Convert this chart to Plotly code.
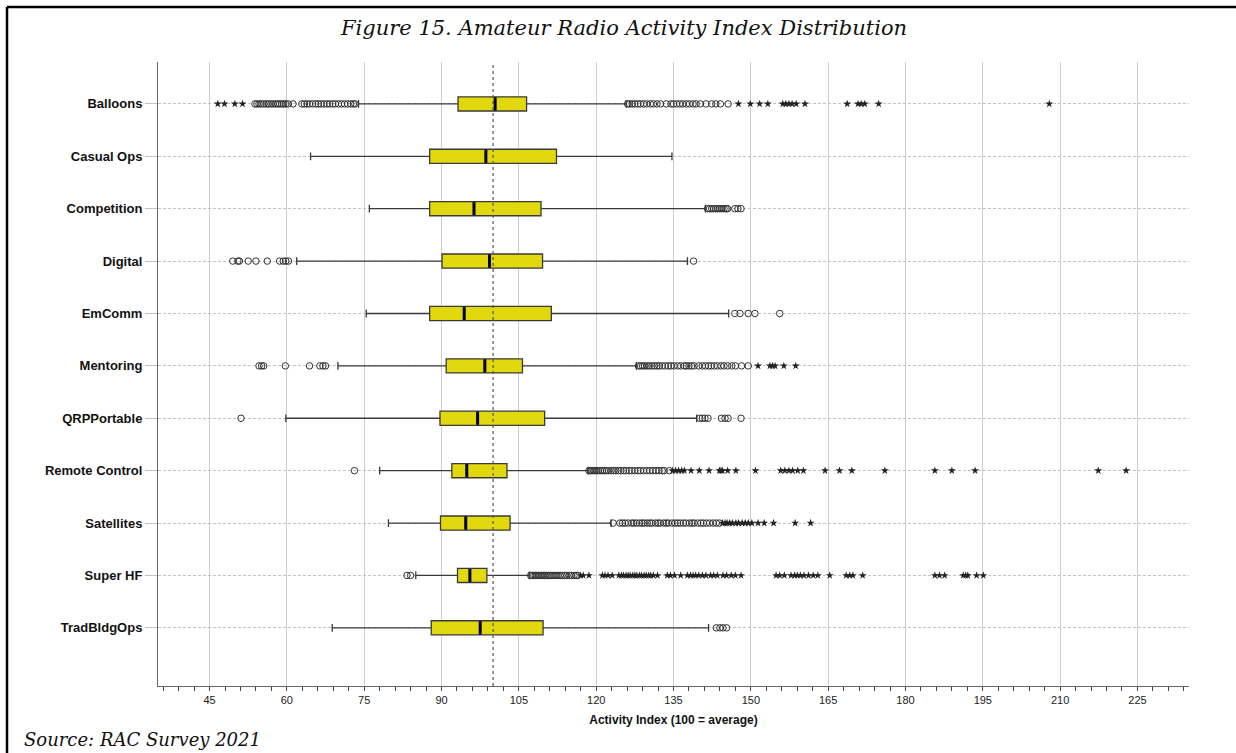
import plotly.graph_objects as go

# ---------------- data ----------------
categories = ["Balloons", "Casual Ops", "Competition", "Digital", "EmComm", "Mentoring",
              "QRPPortable", "Remote Control", "Satellites", "Super HF", "TradBldgOps"]

lower_whisker = [73.9, 64.6, 76.0, 61.9, 75.4, 69.9, 59.8, 78.0, 79.7, 85.0, 68.8]
q1_values     = [93.2, 87.7, 87.7, 90.1, 87.7, 90.9, 89.7, 92.0, 89.8, 93.1, 88.0]
median_values = [100.4, 98.6, 96.3, 99.3, 94.4, 98.4, 97.0, 94.9, 94.7, 95.5, 97.5]
q3_values     = [106.5, 112.3, 109.3, 109.6, 111.3, 105.7, 110.0, 102.7, 103.3, 98.8, 109.7]
upper_whisker = [125.8, 134.7, 141.2, 137.7, 145.7, 127.8, 139.5, 118.4, 122.9, 107.0, 141.8]

# mild outliers (circles)
balloons_circles = [53.8, 54.2, 54.6, 55.0, 55.5, 56.0, 56.4, 56.9, 57.3, 57.8, 58.2, 58.6, 59.0,
                    59.4, 59.8, 60.3, 61.2, 62.9, 63.4, 63.9, 64.4, 65.0, 65.6, 66.1, 66.6, 67.2,
                    67.8, 68.3, 68.9, 69.4, 70.0, 70.6, 71.2, 71.8, 72.4, 72.9, 73.2,
                    126.1, 126.5, 127.0, 127.5, 128.1, 128.6, 129.2, 129.8, 130.5, 131.1, 131.8,
                    132.5, 133.6, 134.5, 135.0, 135.6, 136.2, 136.8, 137.5, 138.1, 138.8, 139.4,
                    140.2, 141.3, 142.4, 143.2, 144.1, 145.6]
casual_circles = []
competition_circles = [141.6, 142.0, 142.4, 142.8, 143.2, 143.6, 144.0, 144.4, 144.8, 145.2,
                       145.5, 146.9, 147.5, 148.1]
digital_circles = [49.5, 50.5, 50.8, 52.5, 54.0, 56.2, 58.6, 59.3, 59.8, 60.3, 138.9]
emcomm_circles = [146.9, 147.9, 149.5, 150.8, 155.6]
mentoring_circles = [54.6, 55.1, 55.5, 59.7, 64.4, 66.4, 67.0, 67.5,
                     128.2, 128.6, 129.0, 129.4, 129.9, 130.3, 130.8, 131.3, 131.8, 132.2,
                     132.8, 133.4, 134.0, 134.5, 135.1, 135.8, 136.4, 137.1, 137.5, 138.0,
                     138.5, 139.0, 139.9, 140.6, 141.2, 141.8, 142.3, 142.9, 143.5, 144.2,
                     144.8, 145.5, 146.3, 147.0, 148.2, 149.5]
qrp_circles = [51.1, 140.1, 140.6, 141.1, 141.7, 144.3, 145.0, 145.6, 148.1]
remote_circles = [73.1, 118.6, 118.9, 119.2, 119.5, 119.8, 120.1, 120.4, 120.8, 121.2, 121.6,
                  122.0, 122.4, 122.9, 123.4, 123.8, 124.3, 124.8, 125.3, 125.8, 126.4, 126.9,
                  127.5, 128.1, 128.6, 129.2, 129.8, 130.4, 131.0, 131.6, 132.2, 132.8, 133.2,
                  134.2]
satellites_circles = [123.3, 124.6, 125.1, 125.6, 126.2, 126.9, 127.3, 127.8, 128.4, 128.9,
                      129.3, 129.9, 130.4, 130.8, 131.5, 132.0, 132.4, 133.1, 133.6, 134.0,
                      134.7, 135.3, 135.8, 136.3, 136.9, 137.4, 138.1, 138.6, 139.0, 139.7,
                      140.3, 140.8, 141.4, 142.0, 142.7, 143.3, 143.9]
superhf_circles = [83.3, 84.0, 107.3, 107.6, 107.9, 108.2, 108.5, 108.8, 109.1, 109.4, 109.7,
                   110.0, 110.3, 110.7, 111.0, 111.4, 111.8, 112.2, 112.6, 113.0, 113.4, 113.9,
                   114.3, 114.8, 115.2, 115.7, 116.1, 116.4]
tradbldg_circles = [143.3, 144.0, 144.6, 145.3]

# extreme outliers (stars)
balloons_stars = [46.6, 47.9, 49.9, 51.4, 147.6, 149.9, 151.7, 153.3, 156.2, 156.8, 157.4,
                  158.0, 158.8, 160.5, 168.7, 170.8, 171.4, 172.1, 174.8, 207.9]
casual_stars = []
competition_stars = []
digital_stars = []
emcomm_stars = []
mentoring_stars = [151.4, 153.7, 154.2, 154.7, 156.4, 158.7]
qrp_stars = []
remote_stars = [134.8, 135.4, 136.0, 136.6, 137.1, 138.4, 140.0, 141.9, 143.9, 144.2, 144.5,
                145.5, 147.1, 150.9, 155.8, 156.6, 157.4, 158.1, 159.1, 160.2, 164.4, 167.2,
                169.6, 176.0, 185.7, 189.0, 193.5, 217.4, 222.8]
satellites_stars = [144.5, 145.0, 145.4, 145.9, 146.4, 147.1, 147.6, 148.3, 148.9, 149.5,
                    150.2, 151.4, 152.6, 154.4, 158.6, 161.6]
superhf_stars = [117.0, 117.5, 118.6, 121.2, 121.7, 122.3, 123.1, 124.4, 124.9, 125.3, 125.8,
                 126.2, 126.6, 127.1, 127.5, 127.9, 128.4, 128.8, 129.3, 129.7, 130.2, 130.6,
                 131.1, 131.9, 133.8, 134.4, 135.2, 136.4, 137.7, 138.3, 138.8, 139.3, 139.9,
                 140.6, 141.3, 142.2, 142.8, 143.5, 144.6, 145.3, 146.2, 147.0, 148.1, 154.9,
                 155.6, 156.5, 157.8, 158.5, 159.0, 159.6, 160.3, 161.2, 162.1, 163.0, 165.3,
                 168.5, 169.2, 169.8, 171.7, 185.7, 186.6, 187.6, 191.2, 191.7, 192.1, 193.8,
                 195.1]
tradbldg_stars = []

circle_lists = [balloons_circles, casual_circles, competition_circles, digital_circles,
                emcomm_circles, mentoring_circles, qrp_circles, remote_circles,
                satellites_circles, superhf_circles, tradbldg_circles]
star_lists = [balloons_stars, casual_stars, competition_stars, digital_stars, emcomm_stars,
              mentoring_stars, qrp_stars, remote_stars, satellites_stars, superhf_stars,
              tradbldg_stars]

x_tick_values = [45, 60, 75, 90, 105, 120, 135, 150, 165, 180, 195, 210, 225]
reference_value = 100

# ---------------- geometry (pixels) ----------------
W, H = 1236, 753
L, R, T, B = 158, 1189, 62, 686
PW, PH = R - L, B - T
BOX_W = 0.27
SANS = "Liberation Sans"
SERIF = "DejaVu Serif"


def px_x(px):
    return (px - L) / PW


def px_y(py):
    return (B - py) / PH


positions = list(range(len(categories)))

fig = go.Figure()

fig.add_trace(go.Box(
    y=positions, q1=q1_values, median=median_values, q3=q3_values,
    lowerfence=lower_whisker, upperfence=upper_whisker,
    orientation="h", width=BOX_W, whiskerwidth=0.55,
    fillcolor="#E2D80E", line=dict(color="#3a3a3a", width=1.3),
    boxpoints=False, showlegend=False, hoverinfo="skip",
))

# thick median bars
mx, my = [], []
for p, m in zip(positions, median_values):
    mx += [m, m, None]
    my += [p - BOX_W / 2 + 0.01, p + BOX_W / 2 - 0.01, None]
fig.add_trace(go.Scatter(x=mx, y=my, mode="lines", line=dict(color="black", width=3),
                         showlegend=False, hoverinfo="skip"))

cx, cy, sx, sy = [], [], [], []
for p, cl, sl in zip(positions, circle_lists, star_lists):
    cx += cl
    cy += [p] * len(cl)
    sx += sl
    sy += [p] * len(sl)

fig.add_trace(go.Scatter(x=cx, y=cy, mode="markers",
                         marker=dict(symbol="circle-open", size=6.5, color="#333333",
                                     line=dict(color="#333333", width=1)),
                         showlegend=False, hoverinfo="skip"))
fig.add_trace(go.Scatter(x=sx, y=sy, mode="markers",
                         marker=dict(symbol="star", size=6, color="#222222",
                                     line=dict(width=0)),
                         showlegend=False, hoverinfo="skip"))

fig.update_layout(
    width=W, height=H, autosize=False,
    margin=dict(l=L, r=W - R, t=T, b=H - B, pad=0),
    paper_bgcolor="white", plot_bgcolor="white",
    font=dict(family=SANS, color="#222"),
    xaxis=dict(
        range=[35, 235], tickmode="array", tickvals=x_tick_values,
        ticktext=[str(v) for v in x_tick_values],
        showgrid=True, gridcolor="#cdcdcd", gridwidth=1.3,
        showline=True, linecolor="#666666", linewidth=1,
        ticks="outside", ticklen=4, tickcolor="#444", tickwidth=1,
        minor=dict(tick0=36, dtick=3, ticks="outside", ticklen=4, tickcolor="#444",
                   showgrid=False),
        tickfont=dict(family=SANS, size=11, color="#222"),
        title=dict(text="Activity Index (100 = average)",
                   font=dict(family=SANS, size=12, color="#111", weight="bold"),
                   standoff=10),
        zeroline=False,
    ),
    yaxis=dict(
        range=[len(categories) - 1 + 1.11, -0.80],
        tickmode="array", tickvals=positions, ticktext=categories,
        tickfont=dict(family=SANS, size=13, color="#111", weight="bold"),
        showgrid=True, gridcolor="#c4c4c4", gridwidth=1, griddash="3px,2px",
        showline=True, linecolor="#666666", linewidth=1,
        ticks="outside", ticklen=12, tickcolor="#c4c4c4", tickwidth=1,
        zeroline=False,
    ),
    shapes=[
        dict(type="line", xref="x", yref="paper", x0=reference_value, x1=reference_value,
             y0=0, y1=1, line=dict(color="#555555", width=1.2, dash="dot")),
        dict(type="line", xref="paper", yref="paper", x0=px_x(7), x1=px_x(W + 5),
             y0=px_y(7), y1=px_y(7), line=dict(color="black", width=2.5)),
        dict(type="line", xref="paper", yref="paper", x0=px_x(7), x1=px_x(7),
             y0=px_y(7), y1=px_y(H + 5), line=dict(color="black", width=2.5)),
    ],
    annotations=[
        dict(text="<i>Figure 15. Amateur Radio Activity Index Distribution</i>",
             xref="paper", yref="paper", x=px_x(623), y=px_y(28), showarrow=False,
             xanchor="center", yanchor="middle",
             font=dict(family=SERIF, size=21, color="#111")),
        dict(text="<i>Source: RAC Survey 2021</i>",
             xref="paper", yref="paper", x=px_x(22), y=px_y(739), showarrow=False,
             xanchor="left", yanchor="middle",
             font=dict(family=SERIF, size=18, color="#111")),
    ],
)

fig.write_html("out.html")
